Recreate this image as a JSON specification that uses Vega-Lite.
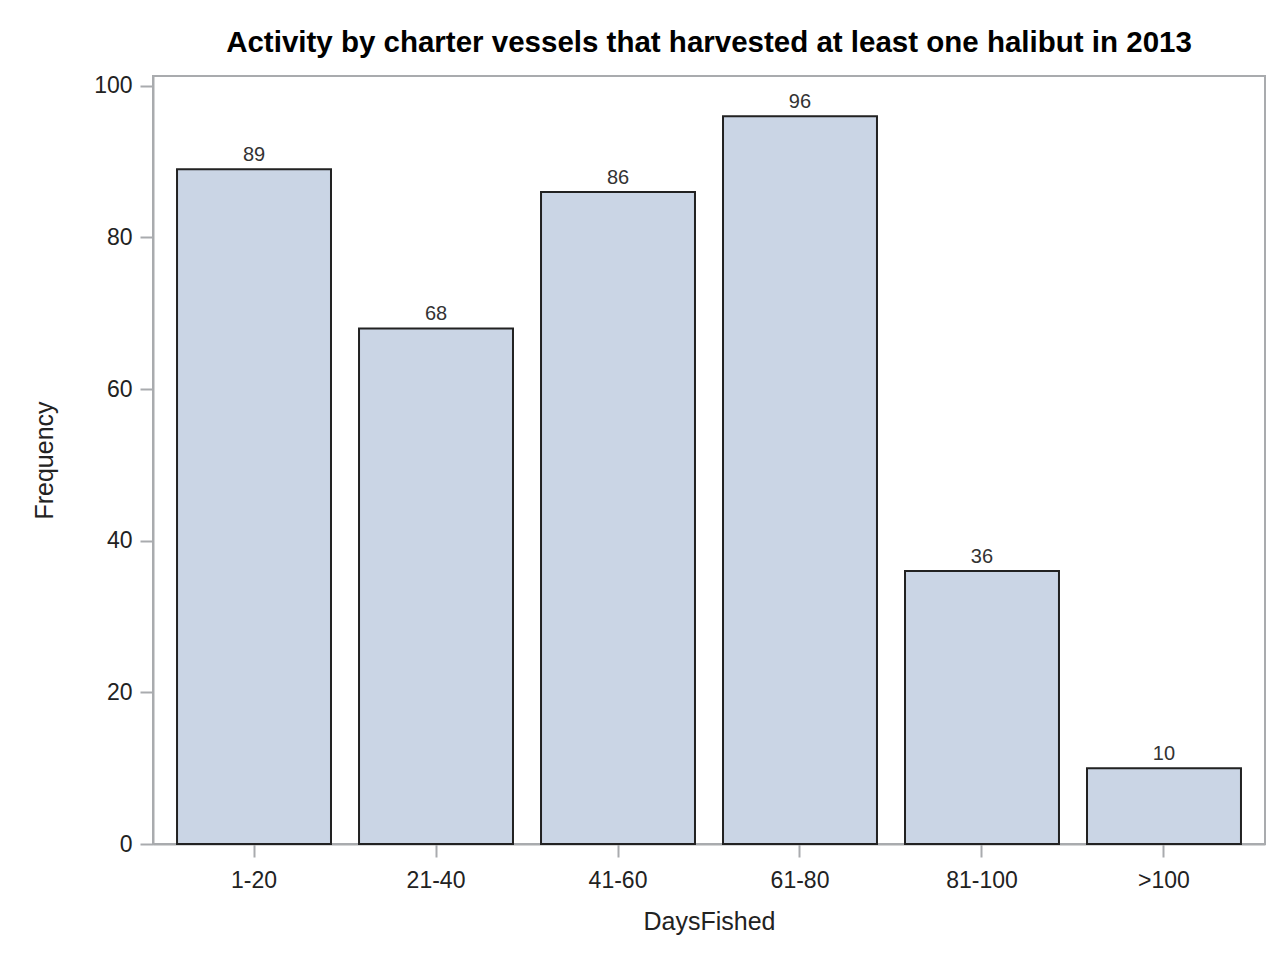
{
  "$schema": "https://vega.github.io/schema/vega-lite/v6.json",
  "autosize": {"type": "none"},
  "padding": {"left": 153, "top": 76, "right": 7, "bottom": 116},
  "width": 1112,
  "height": 768,
  "background": "white",
  "config": {
    "font": "Liberation Sans",
    "view": {"stroke": "#a9abae", "strokeWidth": 2},
    "axis": {
      "domainColor": "#a9abae",
      "domainWidth": 2,
      "tickColor": "#a9abae",
      "tickWidth": 2,
      "tickSize": 13,
      "labelColor": "#222222",
      "titleColor": "#222222",
      "labelFont": "Liberation Sans",
      "titleFont": "Liberation Sans",
      "labelFontSize": 23,
      "titleFontSize": 25,
      "titleFontWeight": "normal",
      "grid": false
    }
  },
  "title": {
    "text": "Activity by charter vessels that harvested at least one halibut in 2013",
    "font": "Liberation Sans",
    "fontSize": 29.5,
    "fontWeight": "bold",
    "color": "#000000",
    "anchor": "middle",
    "offset": 16
  },
  "data": {
    "values": [
      {"DaysFished": "1-20", "Frequency": 89},
      {"DaysFished": "21-40", "Frequency": 68},
      {"DaysFished": "41-60", "Frequency": 86},
      {"DaysFished": "61-80", "Frequency": 96},
      {"DaysFished": "81-100", "Frequency": 36},
      {"DaysFished": ">100", "Frequency": 10}
    ]
  },
  "encoding": {
    "x": {
      "field": "DaysFished",
      "type": "nominal",
      "sort": null,
      "scale": {"paddingInner": 0.154, "paddingOuter": 0.132},
      "axis": {"labelAngle": 0, "labelPadding": 12, "titlePadding": 17, "title": "DaysFished"}
    },
    "y": {
      "field": "Frequency",
      "type": "quantitative",
      "scale": {"domain": [0, 101.3], "nice": false},
      "axis": {"values": [0, 20, 40, 60, 80, 100], "labelPadding": 8, "titlePadding": 36, "title": "Frequency"}
    }
  },
  "layer": [
    {
      "mark": {"type": "bar", "fill": "#cad5e5", "stroke": "#222222", "strokeWidth": 2}
    },
    {
      "mark": {"type": "text", "baseline": "bottom", "dy": -4, "fontSize": 20, "color": "#333333"},
      "encoding": {"text": {"field": "Frequency", "type": "quantitative"}}
    }
  ]
}
